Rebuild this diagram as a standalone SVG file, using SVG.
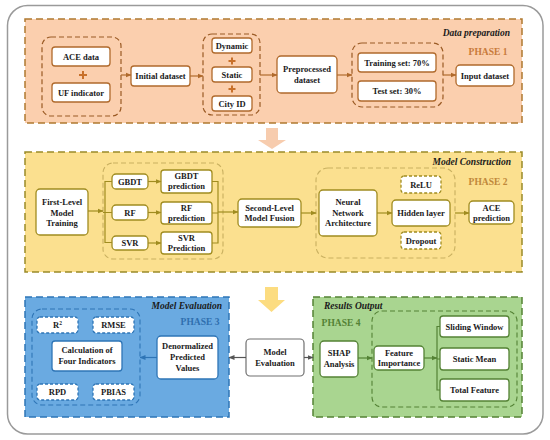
<svg xmlns="http://www.w3.org/2000/svg" width="550" height="440" viewBox="0 0 550 440">
<defs>
<style>
text{font-family:"Liberation Serif","Times New Roman",serif;font-weight:bold;font-size:8.5px;fill:#1a1a1a;text-anchor:middle}
.title{font-style:italic;font-size:9.5px;text-anchor:end}
.ph{font-size:9.5px}
.b1{fill:#fff;stroke:#b06a2c;stroke-width:1.3}
.b2{fill:#fff;stroke:#a08c20;stroke-width:1.3}
.b3{fill:#fff;stroke:#2e75b6;stroke-width:1.3}
.b4{fill:#fff;stroke:#548235;stroke-width:1.3}
.d{stroke-dasharray:3,2}
.g1{fill:none;stroke:#9a5a24;stroke-width:1.2;stroke-dasharray:5,3}
.g2{fill:none;stroke:#c9b060;stroke-width:1.1;stroke-dasharray:5,3}
.g3{fill:none;stroke:#2e75b6;stroke-width:1.1;stroke-dasharray:5,3}
.g4{fill:none;stroke:#548235;stroke-width:1.1;stroke-dasharray:5,3}
.c1{fill:none;stroke:#b06a2c;stroke-width:1.2}
.c2{fill:none;stroke:#a08c20;stroke-width:1.2}
.c3{fill:none;stroke:#2e75b6;stroke-width:1.2}
.c4{fill:none;stroke:#548235;stroke-width:1.2}
.c5{fill:none;stroke:#555;stroke-width:1.2}
</style>
<marker id="m1" viewBox="0 0 6 6" refX="5.5" refY="3" markerWidth="6" markerHeight="6" markerUnits="userSpaceOnUse" orient="auto"><path d="M0,0.5 L6,3 L0,5.5z" fill="#b06a2c"/></marker>
<marker id="m2" viewBox="0 0 6 6" refX="5.5" refY="3" markerWidth="6" markerHeight="6" markerUnits="userSpaceOnUse" orient="auto"><path d="M0,0.5 L6,3 L0,5.5z" fill="#a08c20"/></marker>
<marker id="m3" viewBox="0 0 6 6" refX="5.5" refY="3" markerWidth="6" markerHeight="6" markerUnits="userSpaceOnUse" orient="auto"><path d="M0,0.5 L6,3 L0,5.5z" fill="#2e75b6"/></marker>
<marker id="m4" viewBox="0 0 6 6" refX="5.5" refY="3" markerWidth="6" markerHeight="6" markerUnits="userSpaceOnUse" orient="auto"><path d="M0,0.5 L6,3 L0,5.5z" fill="#548235"/></marker>
<marker id="m5" viewBox="0 0 6 6" refX="5.5" refY="3" markerWidth="6" markerHeight="6" markerUnits="userSpaceOnUse" orient="auto"><path d="M0,0.5 L6,3 L0,5.5z" fill="#555"/></marker>
</defs>
<rect x="0" y="0" width="550" height="440" fill="#fff"/>
<rect x="7.5" y="5.5" width="535.5" height="428.5" rx="20" fill="#fff" stroke="#9a9a9a" stroke-width="1.5"/>

<!-- phase panels -->
<g id="phase1">
<rect x="25" y="19" width="497" height="104" fill="#fbcfae" stroke="#b07a30" stroke-width="1.5" stroke-dasharray="7,4"/>
<text class="title" x="510" y="36">Data preparation</text>
<text class="ph" x="488" y="55" style="fill:#c87a3a">PHASE 1</text>
</g>
<g id="phase2">
<rect x="25" y="152" width="497" height="120" fill="#fbe08f" stroke="#9a8a28" stroke-width="1.5" stroke-dasharray="7,4"/>
<text class="title" x="511" y="165">Model Construction</text>
<text class="ph" x="488" y="185" style="fill:#c0883a">PHASE 2</text>
</g>
<g id="phase3">
<rect x="25" y="297" width="204" height="120" fill="#6aaae1" stroke="#2e75b6" stroke-width="1.5" stroke-dasharray="7,4"/>
<text class="title" x="222" y="309">Model Evaluation</text>
<text class="ph" x="200" y="325" style="fill:#2f6fae">PHASE 3</text>
</g>
<g id="phase4">
<rect x="313" y="297" width="209" height="120" fill="#a9d590" stroke="#548235" stroke-width="1.5" stroke-dasharray="7,4"/>
<text class="title" x="324" y="309" style="text-anchor:start">Results Output</text>
<text class="ph" x="341" y="326" style="fill:#548235">PHASE 4</text>
</g>

<!-- big arrows between phases -->
<path d="M266,128 H278 V140 H286 L272,149 L258,140 H266 Z" fill="#f6c3a0" opacity="0.85"/>
<path d="M265,287 H278 V300 H285 L271.5,312 L258,300 H265 Z" fill="#fcdc80"/>

<!-- groups -->
<g id="grp-sources"><rect class="g1" x="42" y="37" width="79" height="79" rx="9"/></g>
<g id="grp-features"><rect class="g1" x="203" y="34" width="57" height="81" rx="9"/></g>
<g id="grp-split"><rect class="g1" x="352" y="43" width="91" height="64" rx="10"/></g>
<g id="grp-base"><rect class="g2" x="103" y="163" width="120" height="96" rx="10"/></g>
<g id="grp-nn"><rect class="g2" x="316" y="168" width="139" height="90" rx="12"/></g>
<g id="grp-ind"><rect class="g3" x="32" y="309" width="108" height="96" rx="10"/></g>
<g id="grp-fi"><rect class="g4" x="372" y="311" width="145" height="96" rx="10"/></g>

<!-- phase 1 nodes -->
<g id="ace-data"><rect class="b1" x="52" y="47" width="58" height="19" rx="3"/><text x="81" y="59.5">ACE data</text></g>
<g id="plus1"><path d="M83,71 V79 M79,75 H87" stroke="#c8702a" stroke-width="2"/></g>
<g id="uf-indicator"><rect class="b1" x="52" y="83" width="58" height="19" rx="3"/><text x="81" y="95.5">UF indicator</text></g>
<g id="initial-dataset"><rect class="b1" x="131" y="66" width="59" height="20" rx="3"/><text x="160.5" y="79">Initial dataset</text></g>
<g id="dynamic"><rect class="b1" x="212" y="38" width="40" height="15" rx="3"/><text x="232" y="48.5">Dynamic</text></g>
<g id="plus2"><path d="M232,57.5 V64.5 M228.5,61 H235.5" stroke="#c8702a" stroke-width="2"/></g>
<g id="static"><rect class="b1" x="212" y="67" width="40" height="15" rx="3"/><text x="232" y="77.5">Static</text></g>
<g id="plus3"><path d="M232,85.5 V92.5 M228.5,89 H235.5" stroke="#c8702a" stroke-width="2"/></g>
<g id="city-id"><rect class="b1" x="212" y="96" width="40" height="15" rx="3"/><text x="232" y="106.5">City ID</text></g>
<g id="preprocessed"><rect class="b1" x="277" y="56" width="60" height="37" rx="4"/><text x="307" y="72">Preprocessed</text><text x="307" y="83">dataset</text></g>
<g id="training"><rect class="b1" x="358" y="53" width="78" height="19" rx="3"/><text x="397" y="65.5">Training set: 70%</text></g>
<g id="test"><rect class="b1" x="358" y="81" width="78" height="20" rx="3"/><text x="397" y="94">Test set: 30%</text></g>
<g id="input-dataset"><rect class="b1" x="456" y="65" width="58" height="21" rx="4"/><text x="485" y="78.5">Input dataset</text></g>

<!-- phase 2 nodes -->
<g id="first-level"><rect class="b2" x="36" y="189" width="52" height="46" rx="4"/><text x="62" y="205">First-Level</text><text x="62" y="215.5">Model</text><text x="62" y="226">Training</text></g>
<g id="gbdt"><rect class="b2" x="112" y="174" width="36" height="15" rx="4"/><text x="130" y="184.5">GBDT</text></g>
<g id="rf"><rect class="b2" x="112" y="205" width="36" height="15" rx="4"/><text x="130" y="215.5">RF</text></g>
<g id="svr"><rect class="b2" x="112" y="236" width="36" height="14" rx="4"/><text x="130" y="246">SVR</text></g>
<g id="gbdt-pred"><rect class="b2" x="161" y="170" width="51" height="23" rx="3"/><text x="186.5" y="179">GBDT</text><text x="186.5" y="189">prediction</text></g>
<g id="rf-pred"><rect class="b2" x="161" y="202" width="51" height="22" rx="3"/><text x="186.5" y="210.5">RF</text><text x="186.5" y="220.5">prediction</text></g>
<g id="svr-pred"><rect class="b2" x="161" y="232" width="51" height="22" rx="3"/><text x="186.5" y="240.5">SVR</text><text x="186.5" y="250.5">Prediction</text></g>
<g id="second-level"><rect class="b2" x="238" y="199" width="63" height="28" rx="4"/><text x="269.5" y="210.5">Second-Level</text><text x="269.5" y="221">Model Fusion</text></g>
<g id="nn-arch"><rect class="b2" x="319" y="190" width="58" height="46" rx="4"/><text x="348" y="205">Neural</text><text x="348" y="215.5">Network</text><text x="348" y="226">Architecture</text></g>
<g id="relu"><rect class="b2 d" x="401" y="176" width="40" height="17" rx="3"/><text x="421" y="187.5">ReLU</text></g>
<g id="hidden"><rect class="b2" x="392" y="200" width="58" height="26" rx="4"/><text x="421" y="216">Hidden layer</text></g>
<g id="dropout"><rect class="b2 d" x="401" y="232" width="40" height="17" rx="3"/><text x="421" y="243.5">Dropout</text></g>
<g id="ace-pred"><rect class="b2" x="469" y="201" width="45" height="23" rx="4"/><text x="491.5" y="210.5">ACE</text><text x="491.5" y="220.5">prediction</text></g>

<!-- phase 3 nodes -->
<g id="r2"><rect class="b3 d" x="37" y="317" width="41" height="16" rx="3"/><text x="57.5" y="328">R<tspan font-size="5.5" dy="-3">2</tspan></text></g>
<g id="rmse"><rect class="b3 d" x="93" y="317" width="41" height="16" rx="3"/><text x="113.5" y="328">RMSE</text></g>
<g id="calc"><rect class="b3" x="52" y="341" width="70" height="30" rx="3"/><text x="87" y="353">Calculation of</text><text x="87" y="364">Four Indicators</text></g>
<g id="rpd"><rect class="b3 d" x="37" y="384" width="41" height="16" rx="3"/><text x="57.5" y="395">RPD</text></g>
<g id="pbias"><rect class="b3 d" x="93" y="384" width="41" height="16" rx="3"/><text x="113.5" y="395">PBIAS</text></g>
<g id="denorm"><rect class="b3" x="157" y="336" width="61" height="43" rx="4"/><text x="187.5" y="349">Denormalized</text><text x="187.5" y="360">Predicted</text><text x="187.5" y="371">Values</text></g>

<!-- central evaluation node -->
<g id="model-eval"><rect x="246" y="339" width="58" height="37" rx="4" fill="#fff" stroke="#707070" stroke-width="1.2"/><text x="275" y="355">Model</text><text x="275" y="365.5">Evaluation</text></g>

<!-- phase 4 nodes -->
<g id="shap"><rect class="b4" x="320" y="341" width="38" height="36" rx="4"/><text x="339" y="356">SHAP</text><text x="339" y="366.5">Analysis</text></g>
<g id="feat-imp"><rect class="b4" x="374" y="346" width="50" height="24" rx="4"/><text x="399" y="355.5">Feature</text><text x="399" y="366">Importance</text></g>
<g id="sliding"><rect class="b4" x="440" y="316" width="69" height="21" rx="3"/><text x="474.5" y="329.5">Sliding Window</text></g>
<g id="static-mean"><rect class="b4" x="440" y="348" width="69" height="22" rx="3"/><text x="474.5" y="362">Static Mean</text></g>
<g id="total"><rect class="b4" x="440" y="379" width="69" height="22" rx="3"/><text x="474.5" y="393">Total Feature</text></g>

<!-- connectors -->
<g id="connectors">
<path class="c1" d="M121,75 H131" marker-end="url(#m1)"/>
<path class="c1" d="M190,76 H203" marker-end="url(#m1)"/>
<path class="c1" d="M260,75 H277" marker-end="url(#m1)"/>
<path class="c1" d="M337,75 H352" marker-end="url(#m1)"/>
<path class="c1" d="M443,75 H456" marker-end="url(#m1)"/>

<path class="c2" d="M88,211 H103" marker-end="url(#m2)"/>
<path class="c2" d="M112,181.5 H105 V242.5 H112 M103,212.5 H112"/>
<path class="c2" d="M148,181.5 H161" marker-end="url(#m2)"/>
<path class="c2" d="M148,212.5 H161" marker-end="url(#m2)"/>
<path class="c2" d="M148,243 H161" marker-end="url(#m2)"/>
<path class="c2" d="M212,181.5 H218 V243 H212 M212,213 H218"/>
<path class="c2" d="M218,212 H238" marker-end="url(#m2)"/>
<path class="c2" d="M301,213 H316" marker-end="url(#m2)"/>
<path class="c2" d="M377,213 H392" marker-end="url(#m2)"/>
<path class="c2" d="M455,213 H469" marker-end="url(#m2)"/>

<path class="c3" d="M157,357.5 H140" marker-end="url(#m3)"/>
<path class="c5" d="M246,357.5 H229" marker-end="url(#m5)"/>
<path class="c5" d="M304,357.5 H313" marker-end="url(#m5)"/>

<path class="c4" d="M358,358 H372" marker-end="url(#m4)"/>
<path class="c4" d="M424,358 H437" marker-end="url(#m4)"/>
<path class="c4" d="M440,326.5 H437 V390 H440 M437,359 H440"/>
</g>
</svg>
